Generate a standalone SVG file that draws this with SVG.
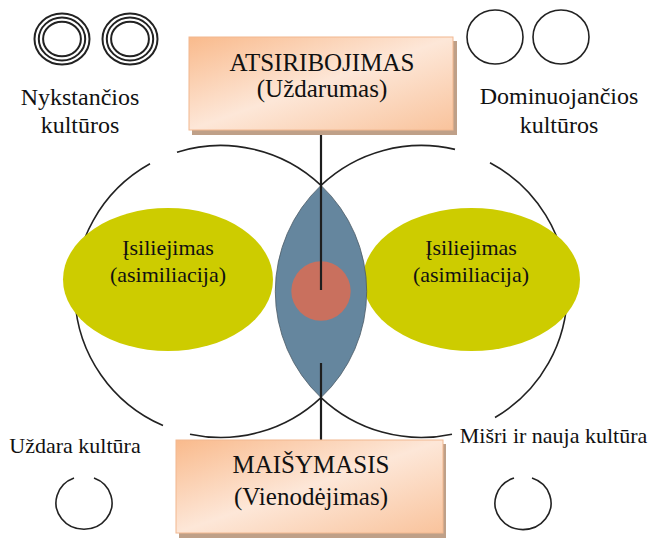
<svg xmlns="http://www.w3.org/2000/svg" width="657" height="538" viewBox="0 0 657 538">
<style>
  text { font-family: "Liberation Serif", "DejaVu Serif", serif; fill: #111; }
  .lbl { font-size: 24px; text-anchor: middle; }
  .sm { font-size: 22px; text-anchor: middle; }
  .box { font-size: 25px; text-anchor: middle; }
  .arc { fill: none; stroke: #222; stroke-width: 1.6; }
  .ring { fill: none; stroke: #222; stroke-width: 2; }
  .thin { fill: none; stroke: #222; stroke-width: 1.6; }
  .ell { fill: #CDCC00; }
  .conn { stroke: #1e1e1e; stroke-width: 2.2; fill: none; }
  .shadow { fill: #BFA088; }
  .bx { fill: url(#peach); stroke: #F2B890; stroke-width: 1; }
</style>
<defs>
  <linearGradient id="peach" x1="0" y1="0" x2="1" y2="1">
    <stop offset="0" stop-color="#F9BA8C"/>
    <stop offset="0.5" stop-color="#FDE7D8"/>
    <stop offset="1" stop-color="#F9C39C"/>
  </linearGradient>
</defs>

<g id="triple-circles">
  <ellipse class="ring" cx="62" cy="39" rx="27.5" ry="25.5"/>
  <ellipse class="ring" cx="62" cy="39" rx="23.2" ry="21.4"/>
  <ellipse class="ring" cx="62" cy="39" rx="18.9" ry="17.3"/>
  <ellipse class="ring" cx="130" cy="39" rx="27.5" ry="25.5"/>
  <ellipse class="ring" cx="130" cy="39" rx="23.2" ry="21.4"/>
  <ellipse class="ring" cx="130" cy="39" rx="18.9" ry="17.3"/>
</g>
<g id="label-nykstancios">
  <text class="lbl" x="80" y="105" font-family="Liberation Serif, serif">Nykstančios</text>
  <text class="lbl" x="80" y="133" font-family="Liberation Serif, serif">kultūros</text>
</g>

<g id="plain-circles">
  <ellipse class="thin" cx="495" cy="37" rx="28" ry="27"/>
  <ellipse class="thin" cx="561" cy="37" rx="28" ry="27"/>
</g>
<g id="label-dominuojancios">
  <text class="lbl" x="559" y="104">Dominuojančios</text>
  <text class="lbl" x="559" y="133">kultūros</text>
</g>

<g id="big-circle-left">
  <path class="arc" d="M 321 185.4 A 146 146 0 0 0 177 152.2"/>
  <path class="arc" d="M 150 163.8 A 146 146 0 0 0 163 425.6"/>
  <path class="arc" d="M 190 434.2 A 146 146 0 0 0 321 397.6"/>
</g>
<g id="big-circle-right">
  <path class="arc" d="M 321 185.4 A 146 146 0 0 1 455 149.4"/>
  <path class="arc" d="M 490 162.7 A 146 146 0 0 1 495 417.5"/>
  <path class="arc" d="M 452 434.2 A 146 146 0 0 1 321 397.6"/>
</g>

<g id="ellipse-left">
  <ellipse class="ell" cx="168" cy="279.5" rx="105" ry="71.5"/>
  <text class="sm" x="168" y="255">Įsiliejimas</text>
  <text class="sm" x="168" y="282">(asimiliacija)</text>
</g>
<g id="ellipse-right">
  <ellipse class="ell" cx="471.5" cy="279.5" rx="108.5" ry="71.5"/>
  <text class="sm" x="471" y="255">Įsiliejimas</text>
  <text class="sm" x="471" y="282">(asimiliacija)</text>
</g>

<g id="lens">
  <path d="M 321 185.4 A 146 146 0 0 1 321 397.6 A 146 146 0 0 1 321 185.4 Z" fill="#65869E" stroke="#4B5B66" stroke-width="0.8"/>
</g>
<g id="center-circle">
  <circle cx="321" cy="291" r="29.7" fill="#C9705E"/>
</g>

<g id="connectors">
  <line class="conn" x1="321" y1="130" x2="321" y2="290"/>
  <line class="conn" x1="321" y1="363" x2="321" y2="440"/>
</g>

<g id="box-top">
  <rect class="shadow" x="192" y="41" width="265" height="94"/>
  <rect class="bx" x="189" y="37" width="264" height="93"/>
  <text class="box" x="322" y="71">ATSIRIBOJIMAS</text>
  <text class="box" x="322" y="97">(Uždarumas)</text>
</g>

<g id="box-bottom">
  <rect class="shadow" x="179" y="444" width="267" height="94"/>
  <rect class="bx" x="176" y="440" width="267" height="93"/>
  <text class="box" x="311" y="473">MAIŠYMASIS</text>
  <text class="box" x="311" y="505">(Vienodėjimas)</text>
</g>

<g id="label-uzdara">
  <text class="sm" x="75" y="453">Uždara kultūra</text>
</g>
<g id="circle-uzdara">
  <path class="thin" d="M 94 478 A 28 26.5 0 1 1 74 478"/>
</g>

<g id="label-misri">
  <text class="sm" x="553.5" y="443">Mišri ir nauja kultūra</text>
</g>
<g id="circle-misri">
  <path class="thin" d="M 532 478 A 28 26.5 0 1 1 514 478"/>
</g>
</svg>
